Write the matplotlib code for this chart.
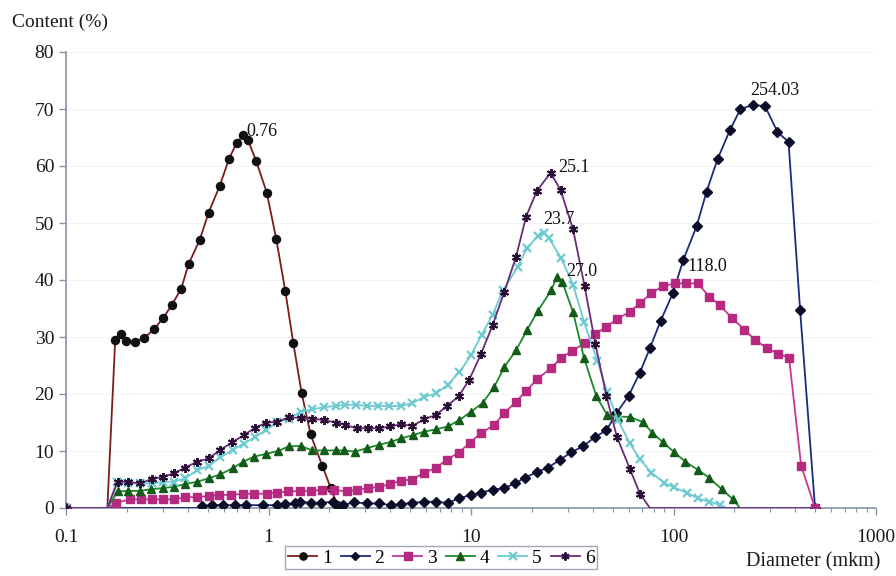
import matplotlib
matplotlib.use("Agg")
import matplotlib.pyplot as plt
from matplotlib.ticker import FixedLocator, NullFormatter
import numpy as np

plt.rcParams['font.family'] = ['Liberation Serif', 'DejaVu Serif']

# ---- data ----
s1_x = [0.1, 0.16, 0.175, 0.187, 0.197, 0.218, 0.243, 0.273, 0.303, 0.334, 0.371, 0.403, 0.457,
        0.506, 0.574, 0.639, 0.697, 0.750, 0.790, 0.869, 0.981, 1.092, 1.210, 1.325, 1.457,
        1.614, 1.844, 2.03, 2.19, 2.45]
s1_y = [0, 0, 29.5, 30.5, 29.3, 29.2, 29.8, 31.4, 33.4, 35.7, 38.5, 42.8, 47.0,
        51.8, 56.5, 61.3, 64.1, 65.4, 64.6, 60.9, 55.3, 47.2, 38.1, 29.0, 20.2,
        12.9, 7.4, 3.5, 0.5, -0.3]

s2_x = [0.1, 0.45, 0.470, 0.526, 0.597, 0.681, 0.775, 0.937, 1.104, 1.213, 1.349, 1.429, 1.614,
        1.808, 2.08, 2.34, 2.63, 3.06, 3.52, 4.02, 4.50, 5.14, 5.87, 6.71, 7.67, 8.75,
        10.0, 11.2, 12.8, 14.6, 16.5, 18.4, 21.2, 24.0, 27.4, 31.3, 35.7, 41.1, 46.6,
        52.2, 60.1, 68.1, 76.4, 86.3, 99.6, 111.7, 130, 145.6, 165, 190, 214, 246, 283,
        326, 370, 422, 500]
s2_y = [0, 0, 0.35, 0.5, 0.5, 0.5, 0.5, 0.5, 0.5, 0.65, 0.8, 1.1, 0.9,
        0.9, 1.1, 0.5, 1.0, 0.8, 0.8, 0.5, 0.65, 0.9, 1.1, 1.1, 0.9, 1.7,
        2.3, 2.7, 3.2, 3.5, 4.3, 5.3, 6.3, 7.1, 8.4, 9.8, 10.8, 12.5, 13.6,
        16.6, 19.7, 23.7, 28.0, 32.8, 37.8, 43.5, 49.4, 55.5, 61.2, 66.3, 70.0, 70.7, 70.5,
        66.0, 64.2, 34.7, 0]

s3_x = [0.1, 0.16, 0.177, 0.206, 0.234, 0.266, 0.301, 0.340, 0.388, 0.443, 0.506, 0.567, 0.653,
        0.750, 0.846, 0.986, 1.104, 1.253, 1.429, 1.614, 1.844, 2.11, 2.43, 2.75, 3.11,
        3.52, 3.99, 4.50, 5.14, 5.87, 6.71, 7.60, 8.69, 9.84, 11.2, 13.0, 14.6, 16.6,
        18.7, 21.2, 24.7, 27.9, 31.6, 36.4, 41.1, 46.6, 52.8, 60.8, 68.1, 77.8, 88.3,
        101.7, 115, 132, 150, 169, 195, 224, 252, 291, 327, 372, 427, 500]
s3_y = [0, 0, 0.9, 1.5, 1.5, 1.5, 1.5, 1.5, 1.9, 1.9, 2.1, 2.3, 2.3,
        2.5, 2.5, 2.5, 2.7, 2.9, 3.0, 3.0, 3.2, 3.2, 2.9, 3.2, 3.5,
        3.7, 4.2, 4.8, 5.0, 6.2, 7.0, 8.5, 9.7, 11.4, 13.1, 14.6, 16.6, 18.6,
        20.5, 22.6, 24.5, 26.3, 27.6, 28.9, 30.5, 31.8, 33.2, 34.4, 35.9, 37.7, 38.9,
        39.4, 39.4, 39.4, 37.1, 35.6, 33.3, 31.3, 29.5, 28.0, 27.1, 26.4, 7.4, 0]

s4_x = [0.1, 0.16, 0.180, 0.203, 0.232, 0.263, 0.301, 0.340, 0.388, 0.443, 0.506, 0.578, 0.666,
        0.750, 0.846, 0.974, 1.112, 1.259, 1.439, 1.644, 1.879, 2.15, 2.36, 2.67, 3.06,
        3.52, 4.02, 4.50, 5.2, 5.87, 6.71, 7.67, 8.75, 10.0, 11.4, 13.0, 14.6, 16.7,
        18.9, 21.4, 24.9, 26.6, 28.2, 31.9, 36.1, 41.6, 47.1, 53.2, 60.8, 70.3, 78.7,
        88.9, 100.7, 114.6, 132, 150, 173, 197, 213, 500]
s4_y = [0, 0, 2.9, 3.0, 3.0, 3.3, 3.5, 3.7, 4.2, 4.6, 5.2, 5.9, 7.0,
        8.1, 9.0, 9.5, 10.0, 10.8, 10.9, 10.1, 10.1, 10.1, 10.1, 9.9, 10.5,
        11.1, 11.6, 12.2, 12.8, 13.4, 13.8, 14.3, 15.4, 16.9, 18.4, 21.2, 24.7, 27.7,
        31.2, 34.6, 38.2, 40.6, 39.7, 34.4, 26.4, 19.6, 16.3, 16.0, 16.0, 15.1, 13.2,
        11.5, 9.8, 8.1, 6.7, 5.3, 3.3, 1.5, 0, 0]

s5_x = [0.1, 0.16, 0.178, 0.203, 0.232, 0.266, 0.303, 0.340, 0.388, 0.443, 0.506, 0.578, 0.666,
        0.755, 0.853, 0.974, 1.104, 1.259, 1.439, 1.644, 1.879, 2.15, 2.38, 2.70, 3.06,
        3.48, 3.94, 4.50, 5.14, 5.87, 6.71, 7.67, 8.75, 10.0, 11.3, 12.8, 14.4, 17.0,
        18.9, 21.4, 22.9, 24.3, 27.9, 31.9, 36.2, 42.1, 47.1, 53.2, 60.8, 68.1, 77.8,
        90, 100.7, 116, 132, 150, 169, 183, 500]
s5_y = [0, 0, 4.6, 4.3, 4.3, 4.3, 4.6, 4.6, 5.2, 6.6, 7.4, 8.9, 10.2,
        11.3, 12.4, 13.7, 15.1, 15.7, 16.9, 17.3, 17.7, 17.9, 18.1, 18.1, 17.9,
        17.9, 17.9, 17.9, 18.4, 19.5, 20.1, 21.6, 23.8, 26.8, 30.4, 33.9, 38.2, 42.3,
        45.6, 47.7, 48.3, 47.3, 43.8, 39.2, 32.6, 25.8, 20.3, 15.4, 11.4, 8.6, 6.2,
        4.4, 3.6, 2.7, 1.7, 1.1, 0.6, 0, 0]

s6_x = [0.1, 0.16, 0.180, 0.203, 0.232, 0.266, 0.303, 0.342, 0.388, 0.443, 0.506, 0.578, 0.661,
        0.755, 0.853, 0.974, 1.104, 1.259, 1.439, 1.644, 1.879, 2.15, 2.38, 2.72, 3.09,
        3.52, 3.99, 4.52, 5.14, 5.87, 6.71, 7.60, 8.69, 9.8, 11.2, 12.8, 14.6, 16.7,
        18.7, 21.2, 24.7, 27.7, 31.9, 36.4, 41.1, 46.6, 52.5, 61.0, 68.3, 76.4, 500]
s6_y = [0, 0, 4.6, 4.6, 4.3, 5.1, 5.5, 6.1, 7.1, 8.1, 8.7, 10.2, 11.5,
        12.8, 14.0, 15.0, 15.1, 15.9, 15.8, 15.7, 15.4, 15.0, 14.6, 14.0, 14.0,
        14.0, 14.3, 14.7, 14.4, 15.6, 16.3, 17.9, 19.6, 22.5, 27.0, 32.1, 37.9, 44.1,
        51.1, 55.7, 58.8, 55.8, 48.9, 38.9, 28.8, 19.7, 12.5, 6.8, 2.5, 0, 0]

series_names = ['1', '2', '3', '4', '5', '6']
peak_labels = ['0.76', '254.03', '118.0', '27.0', '23.7', '25.1']
peak_label_pos = [(0.78, 64.6), (238, 71.8), (117, 40.9), (29.5, 40.0), (22.7, 49.2), (27.0, 58.3)]
x_ticks = [0.1, 1, 10, 100, 1000]
x_ticklabels = ['0.1', '1', '10', '100', '1000']
y_ticks = [0, 10, 20, 30, 40, 50, 60, 70, 80]

# ---- figure ----
fig = plt.figure(figsize=(8.96, 5.76), dpi=100)
ax = fig.add_axes([66/896, 1-508/576, (876-66)/896, (508-52)/576])

styles = [
    dict(color='#7a1c1c', marker='o', mfc='#111111', mec='#111111', ms=5.8),
    dict(color='#1b2a7a', marker='D', mfc='#0d0d2a', mec='#0d0d2a', ms=4.6),
    dict(color='#c8378f', marker='s', mfc='#b52a80', mec='#b52a80', ms=5.8),
    dict(color='#1a8a2a', marker='^', mfc='#145a18', mec='#145a18', ms=6.2),
    dict(color='#6ccad0', marker='x', mfc='#6ccad0', mec='#6ccad0', ms=6, mew=1.6),
    dict(color='#6a2a7a', marker=(6, 2, 0), mfc='#2a0e36', mec='#2a0e36', ms=6.5, mew=1.4),
]

data = [(s1_x, s1_y), (s2_x, s2_y), (s3_x, s3_y), (s4_x, s4_y), (s5_x, s5_y), (s6_x, s6_y)]
handles = []
for (xs, ys), st, name in zip(data, styles, series_names):
    n = len(xs)
    if name == '1':
        me = [0] + list(range(2, n - 1))
    elif name in ('2', '3'):
        me = [0] + list(range(2, n))
    else:
        me = [0] + list(range(2, n - 2))
    h, = ax.plot(xs, ys, lw=1.3, markevery=me, label=name, zorder=3, **st)
    handles.append(h)

for txt, (px, py) in zip(peak_labels, peak_label_pos):
    ax.text(px, py, txt, ha='left', va='bottom', fontsize=13, color='#111111', zorder=5)

ax.set_xscale('log')
ax.set_xlim(0.1, 1000)
ax.set_ylim(0, 80)
ax.xaxis.set_major_locator(FixedLocator(x_ticks))
ax.set_xticklabels(x_ticklabels)
minor = [m * 10.0**e for e in range(-1, 3) for m in range(2, 10)]
ax.xaxis.set_minor_locator(FixedLocator(minor))
ax.xaxis.set_minor_formatter(NullFormatter())
ax.set_yticks(y_ticks)
ax.tick_params(axis='both', which='major', labelsize=14, colors='#1a1a1a', length=5, width=1)
ax.tick_params(axis='x', which='minor', length=3, width=0.8)
ax.tick_params(axis='both', which='both', color='#8893a6')
ax.tick_params(axis='x', pad=10)
for sp in ['top', 'right']:
    ax.spines[sp].set_visible(False)
for sp in ['left', 'bottom']:
    ax.spines[sp].set_color('#8893a6')
    ax.spines[sp].set_linewidth(1.2)
ax.yaxis.grid(True, color='#f2f2f2', lw=0.6)
ax.set_axisbelow(True)

fig.text(12/896, 1-22/576, 'Content (%)', fontsize=14, ha='left', va='center', color='#1a1a1a')
fig.text(880/896, 1-562/576, 'Diameter (mkm)', fontsize=14.5, ha='right', va='center', color='#1a1a1a')

leg = fig.legend(handles=handles, labels=series_names, ncol=6, loc='upper left',
                 bbox_to_anchor=(285/896, 1-546/576), borderaxespad=0, frameon=True, fancybox=False,
                 edgecolor='#8893a6', fontsize=14, handlelength=1.5, handletextpad=0.25,
                 columnspacing=0.45, borderpad=0.15, markerscale=0.9)
leg.get_frame().set_linewidth(1.0)

fig.savefig('out.png', dpi=100)
